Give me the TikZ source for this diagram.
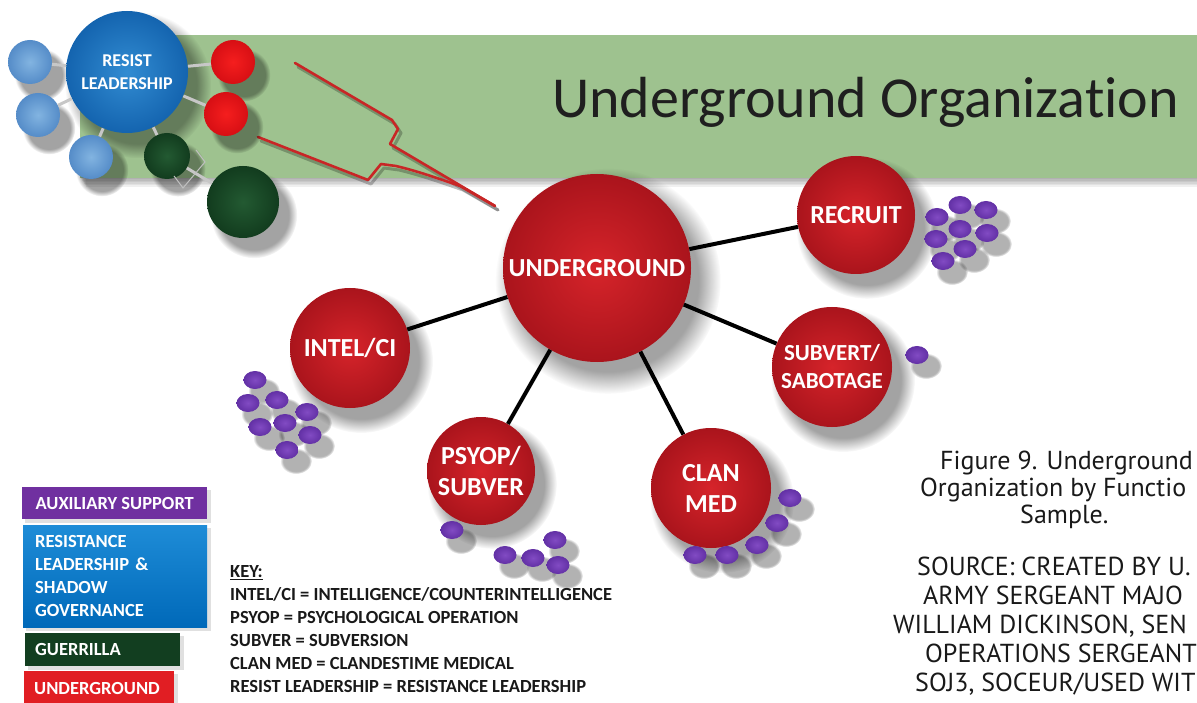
\documentclass[tikz,border=0pt]{standalone}
\usepackage{fontspec}
\setmainfont{Carlito}[Ligatures=NoCommon]
\newfontfamily\capfont{PT Sans}
\usetikzlibrary{fadings,shapes.geometric}
\definecolor{banner}{RGB}{158,194,143}
\definecolor{redA}{RGB}{214,36,42}
\definecolor{redB}{RGB}{170,20,28}
\definecolor{brA}{RGB}{245,30,30}
\definecolor{brB}{RGB}{215,15,20}
\definecolor{blueA}{RGB}{50,140,210}
\definecolor{blueB}{RGB}{20,100,175}
\definecolor{lblueA}{RGB}{130,180,225}
\definecolor{lblueB}{RGB}{85,140,200}
\definecolor{dgreenA}{RGB}{35,90,50}
\definecolor{dgreenB}{RGB}{18,60,30}
\definecolor{purA}{RGB}{130,75,195}
\definecolor{purB}{RGB}{98,48,165}
\definecolor{legpurp}{RGB}{112,48,160}
\definecolor{legblue}{RGB}{0,105,185}
\definecolor{legblueL}{RGB}{30,140,215}
\definecolor{leggreen}{RGB}{18,62,32}
\definecolor{legred}{RGB}{225,30,35}
\definecolor{callred}{RGB}{200,38,38}
\definecolor{captxt}{RGB}{25,25,25}
\newcommand\cshadow[3]{\fill[black,opacity=.36,path fading=circle with fuzzy edge 20 percent] (#1+11,#2+13) circle[radius=#3*1.2pt];}
\begin{document}
\begin{tikzpicture}[x=1pt,y=-1pt,
  redball/.style={circle,inner sep=0pt,minimum size=#1,inner color=redA,outer color=redB,text=white,align=center,font=\bfseries\fontsize{26}{31}\selectfont},
  brball/.style={circle,inner sep=0pt,minimum size=44pt,inner color=brA,outer color=brB},
  lbball/.style={circle,inner sep=0pt,minimum size=44pt,inner color=lblueA,outer color=lblueB},
  dgball/.style={circle,inner sep=0pt,minimum size=#1,inner color=dgreenA,outer color=dgreenB},
  dot/.style={ellipse,inner sep=0pt,minimum width=23pt,minimum height=18pt,inner color=purA,outer color=purB},
  conn/.style={line width=4pt,black},
  gconn/.style={line width=3pt,black!22},
  legbox/.style={rectangle,inner sep=0pt,text=white,font=\bfseries\fontsize{18.5}{23}\selectfont},
  captext/.style={anchor=base west,inner sep=0pt,text=captxt,font=\capfont\fontsize{26}{29}\selectfont}
]
\useasboundingbox (0,0) rectangle (1197,703);
% banner
\foreach \k in {1,...,6}{\fill[black,opacity=.06] (80+\k,178) rectangle (1197,178+1.5*\k);}
\fill[banner] (80,35) rectangle (1197,178);
\node[anchor=base west,inner sep=0pt,text=black!88,font=\fontsize{58}{60}\selectfont] (title) at (552,118) {Underground Organization};

% callout lines
\draw[black,opacity=.25,line width=3pt,line join=round,line cap=round] (298,67) -- (395,124) -- (401,133) -- (393,148) -- (498,210);
\draw[black,opacity=.25,line width=3pt,line join=round,line cap=round] (261,141) -- (371,184) -- (384,168) -- (399,170) .. controls (420,175) and (440,182) .. (463,190) -- (498,210);
\draw[callred,line width=2.6pt,line join=round,line cap=round] (295,63) -- (392,120) -- (398,129) -- (390,144) -- (495,206);
\draw[callred,line width=2.6pt,line join=round,line cap=round] (258,137) -- (368,180) -- (381,164) -- (396,166) .. controls (417,171) and (437,178) .. (460,186) -- (495,206);

% shadows
\cshadow{127}{72}{61}
\cshadow{30}{62}{22}\cshadow{38}{115}{22}\cshadow{91}{157}{22}
\cshadow{233}{62}{22}\cshadow{226}{114}{22}
\cshadow{167}{156}{23}\cshadow{243}{202}{36}
\cshadow{597}{268}{94}
\cshadow{856}{215}{59}
\cshadow{832}{367}{60}
\cshadow{711}{488}{60}
\cshadow{481}{471}{54}
\cshadow{350}{348}{60}
\foreach \x/\y in {937/217,960/205,986/210,960/229,987/233,936/239,965/249,943/261,917/355,255/380,248/403,277/400,307/412,260/427,285/423,310/435,287/450,452/530,505/555,533/558,555/540,558/565,790/498,777/523,757/545,727/555,695/555}
  {\fill[black,opacity=.3,path fading=circle with fuzzy edge 20 percent] (\x+9,\y+11) ellipse[x radius=16pt,y radius=13pt];}
\foreach \x/\y/\w/\h in {22/487/185/32,23/525/184/102,25/633/155/33,24/671/150/34}
  {\fill[black,opacity=.12] (\x+3,\y+3) rectangle (\x+\w+4,\y+\h+4);}

% resistance cluster
\node[lbball] (b1) at (30,62) {};
\node[lbball] (b2) at (38,115) {};
\node[lbball] (b3) at (91,157) {};
\node[brball] (r1) at (233,62) {};
\node[brball] (r2) at (226,114) {};
\node[dgball=46pt] (g1) at (167,156) {};
\node[dgball=72pt] (g2) at (243,202) {};
\node[circle,inner sep=0pt,minimum size=122pt,inner color=blueA,outer color=blueB,text=white,align=center,font=\bfseries\fontsize{18}{23}\selectfont] (res) at (127,72) {RESIST\\LEADERSHIP};
\draw[gconn] (res) -- (b1);
\draw[gconn] (res) -- (b2);
\draw[gconn] (res) -- (b3);
\draw[gconn] (res) -- (r1);
\draw[gconn] (res) -- (r2);
\draw[gconn] (res) -- (g1);
\draw[gconn] (g1) -- (g2);
\draw[black!25,line width=1pt] (196,150) -- (205,162) -- (183,188) -- (174,176);

% main tree
\node[redball=188pt] (und) at (597,268) {UNDERGROUND};
\node[redball=118pt] (rec) at (856,215) {RECRUIT};
\node[redball=120pt,font=\bfseries\fontsize{23}{28}\selectfont] (sub) at (832,367) {SUBVERT/\\SABOTAGE};
\node[redball=120pt] (clan) at (711,488) {CLAN\\MED};
\node[redball=108pt] (psy) at (481,471) {PSYOP/\\SUBVER};
\node[redball=120pt] (intel) at (350,348) {INTEL/CI};
\draw[conn] (und) -- (rec);
\draw[conn] (und) -- (sub);
\draw[conn] (und) -- (clan);
\draw[conn] (und) -- (psy);
\draw[conn] (und) -- (intel);

% dots
\foreach \x/\y [count=\i] in {937/217,960/205,986/210,960/229,987/233,936/239,965/249,943/261,917/355,255/380,248/403,277/400,307/412,260/427,285/423,310/435,287/450,452/530,505/555,533/558,555/540,558/565,790/498,777/523,757/545,727/555,695/555}
  {\node[dot] (d\i) at (\x,\y) {};}

% legend
\node[legbox,fill=legpurp,minimum width=185pt,minimum height=32pt,anchor=north west] (kaux) at (22,487) {AUXILIARY SUPPORT};
\node[legbox,top color=legblueL,bottom color=legblue,minimum width=184pt,minimum height=102pt,anchor=north west,text width=160pt,align=left] (kres) at (23,525) {RESISTANCE\\LEADERSHIP~\&\\SHADOW\\GOVERNANCE};
\node[legbox,fill=leggreen,minimum width=155pt,minimum height=33pt,anchor=north west,text width=135pt,align=left] (kgue) at (25,633) {GUERRILLA};
\node[legbox,fill=legred,minimum width=150pt,minimum height=34pt,anchor=north west,text width=130pt,align=left] (kund) at (24,671) {UNDERGROUND};

% key
\node[anchor=north west,inner sep=0pt,align=left,text=black!90,font=\bfseries\fontsize{18.5}{23}\selectfont] (key) at (230,565)
 {\underline{KEY:}\\
  INTEL/CI = INTELLIGENCE/COUNTERINTELLIGENCE\\
  PSYOP = PSYCHOLOGICAL OPERATION\\
  SUBVER = SUBVERSION\\
  CLAN MED = CLANDESTIME MEDICAL\\
  RESIST LEADERSHIP = RESISTANCE LEADERSHIP};

% caption
\node[captext] (c1) at (940,469) {Figure 9. Underground};
\node[captext] (c2) at (920,496) {Organization by Functio};
\node[captext] (c3) at (1020,523) {Sample.};
\node[captext] (c4) at (917,575) {SOURCE: CREATED BY U.};
\node[captext] (c5) at (923,604) {ARMY SERGEANT MAJO};
\node[captext] (c6) at (893,633) {WILLIAM DICKINSON, SEN};
\node[captext] (c7) at (925,662) {OPERATIONS SERGEANT};
\node[captext] (c8) at (915,691) {SOJ3, SOCEUR/USED WIT};
\end{tikzpicture}
\end{document}
